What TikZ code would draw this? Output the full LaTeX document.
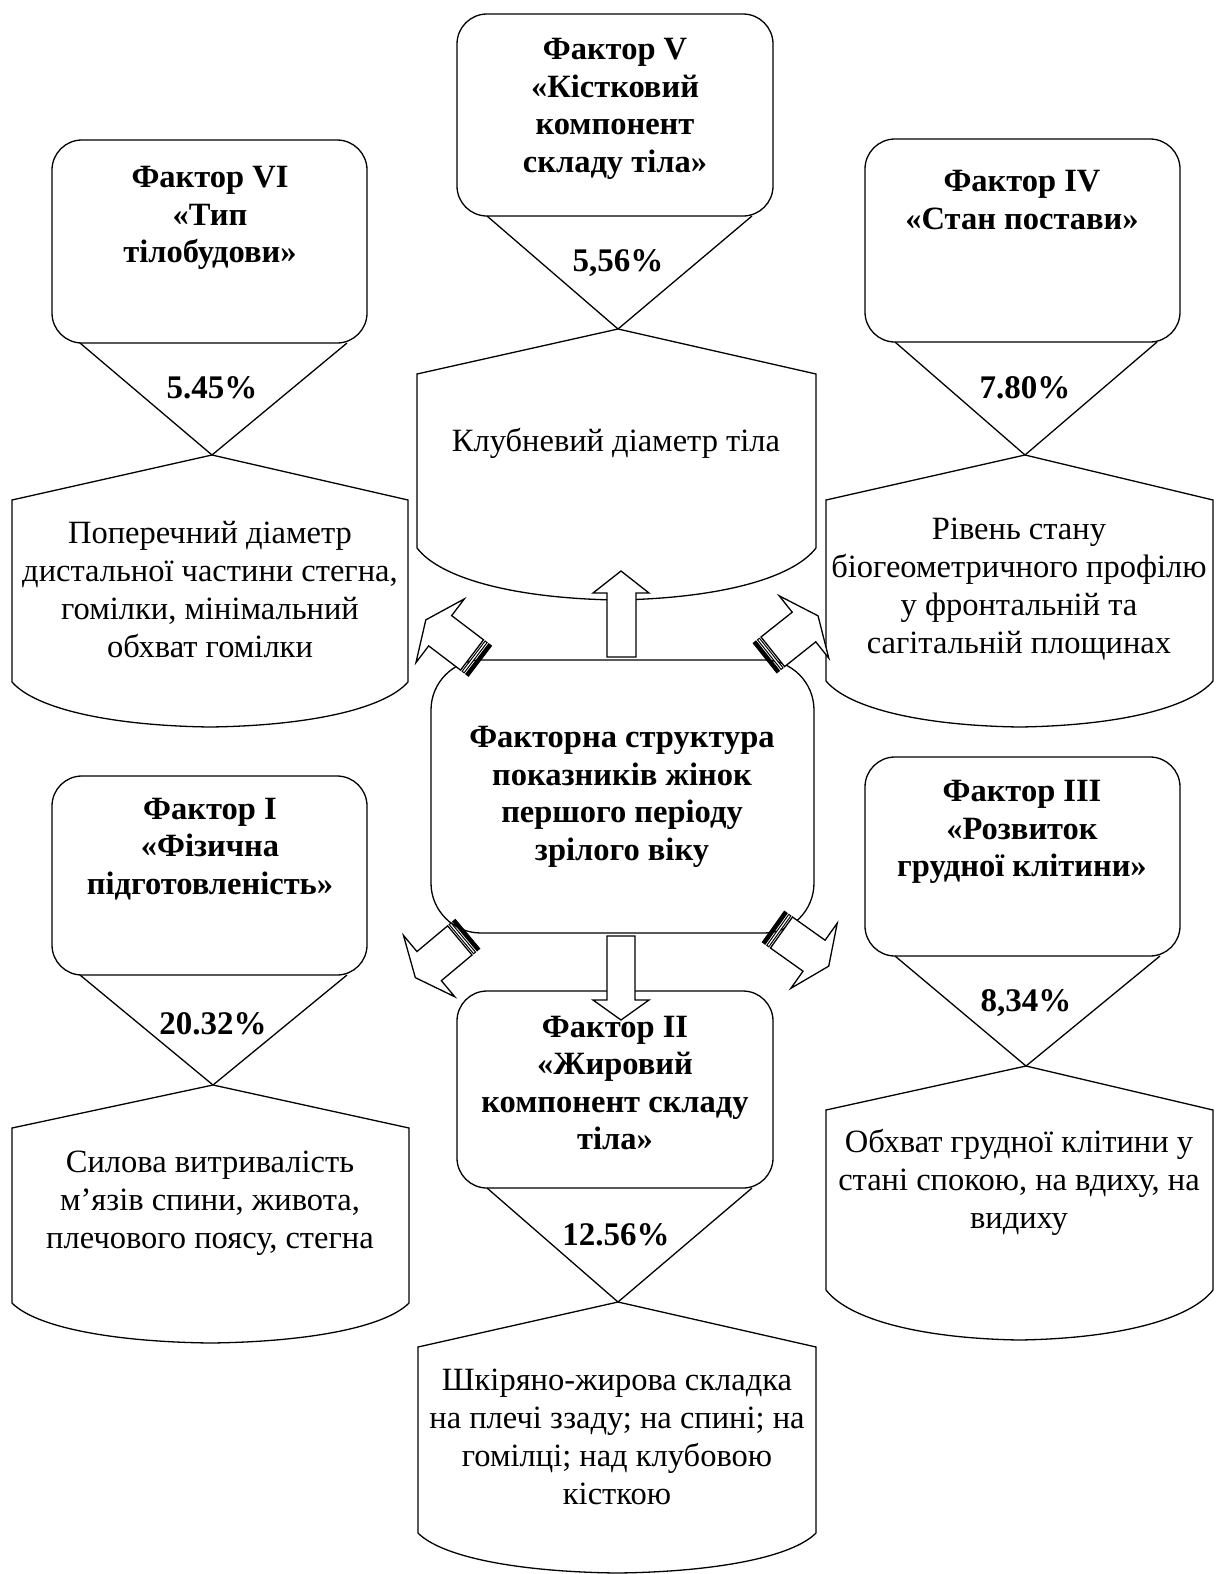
\documentclass[tikz,border=0pt]{standalone}
\usepackage{fontspec}
\setmainfont{Liberation Serif}
\begin{document}
\begin{tikzpicture}[x=1pt,y=-1pt,
  boxline/.style={draw=black, line width=1.3pt, fill=white},
  edgeline/.style={draw=black, line width=1.3pt},
  titletext/.style={align=center, inner sep=0pt, font=\fontsize{32.5}{37.5}\selectfont\bfseries},
  pcttext/.style={inner sep=0pt, font=\fontsize{33}{38}\selectfont\bfseries},
  bodytext/.style={align=center, inner sep=0pt, font=\fontsize{32.5}{38}\selectfont},
  blockarrow/.style={draw=black, line width=1.3pt, fill=white, line join=miter}
]
\useasboundingbox (0,0) rectangle (1216,1574);

% lower (info) box: xl xr xapex yapex ytop ycorner ybottom
\newcommand{\lowbox}[7]{%
  \pgfmathsetmacro\lbxm{(#1+#2)/2}%
  \pgfmathsetmacro\lbhw{(#2-#1)/2}%
  \pgfmathsetmacro\lbdp{#7-#6}%
  \draw[boxline] (#1,#6) -- (#1,#5) -- (#3,#4) -- (#2,#5) -- (#2,#6)
    .. controls ({#2-0.12*\lbhw},{#6+0.6*\lbdp}) and ({\lbxm+0.5*\lbhw},{#7-0.03*\lbdp}) .. (\lbxm,#7)
    .. controls ({\lbxm-0.5*\lbhw},{#7-0.03*\lbdp}) and ({#1+0.12*\lbhw},{#6+0.6*\lbdp}) .. cycle;
}
% diagonal striped arrow: tail x, tail y, dir (canvas) ax ay, perp px py
\newcommand{\diagarrow}[6]{%
  \begin{scope}[shift={(#1,#2)}]
  \begin{scope}[x={(#3pt,#4pt)}, y={(#5pt,#6pt)}]
    \draw[blockarrow] (10,-19) -- (50,-19) -- (50,-40) -- (68,0) -- (50,40) -- (50,19) -- (10,19) -- cycle;
    \draw[black, line width=1.0pt, fill=white] (5.5,-19) -- (8,-19) -- (8,19) -- (5.5,19) -- cycle;
    \draw[black, line width=1.0pt, fill=black] (0,-19) -- (3.5,-19) -- (3.5,19) -- (0,19) -- cycle;
  \end{scope}
  \end{scope}
}

% ---------- Factor V (top centre) ----------
\draw[boxline, rounded corners=30] (457,14) rectangle (773,216);
\draw[edgeline] (487,216) -- (618,329) -- (752,216);
\lowbox{417}{816}{618}{329}{374}{548}{600}
\node[titletext] (f5) at (615,109) {Фактор V\\«Кістковий\\компонент\\складу тіла»};
\node[pcttext] (p5) at (618,263) {5,56\%};
\node[bodytext] (b5) at (616,443) {Клубневий діаметр тіла};

% ---------- Factor VI (top left) ----------
\draw[boxline, rounded corners=30] (52,140) rectangle (367,343);
\draw[edgeline] (80,343) -- (212,455) -- (347,343);
\lowbox{12}{408}{212}{455}{500}{682}{727}
\node[titletext] (f6) at (210,218) {Фактор VI\\«Тип\\тілобудови»};
\node[pcttext] (p6) at (212,388) {5.45\%};
\node[bodytext] (b6) at (210,590) {Поперечний діаметр\\дистальної частини стегна,\\гомілки, мінімальний\\обхват гомілки};

% ---------- Factor IV (top right) ----------
\draw[boxline, rounded corners=30] (865,139) rectangle (1180,342);
\draw[edgeline] (895,342) -- (1025,455) -- (1157,342);
\lowbox{826}{1213}{1025}{455}{500}{681}{727}
\node[titletext] (f4) at (1022,200) {Фактор IV\\«Стан постави»};
\node[pcttext] (p4) at (1025,388) {7.80\%};
\node[bodytext] (b4) at (1019,589) {Рівень стану\\біогеометричного профілю\\у фронтальній та\\сагітальній площинах};

% ---------- Centre ----------
\draw[boxline, rounded corners=50] (431,660) rectangle (814,933);
\node[titletext] (cc) at (622,797) {Факторна структура\\показників жінок\\першого періоду\\зрілого віку};

% ---------- Factor I (bottom left) ----------
\draw[boxline, rounded corners=30] (52,776) rectangle (367,975);
\draw[edgeline] (80,975) -- (213,1085) -- (347,975);
\lowbox{12}{409}{213}{1085}{1128}{1303}{1343}
\node[titletext] (f1) at (210,849) {Фактор I\\«Фізична\\підготовленість»};
\node[pcttext] (p1) at (213,1024) {20.32\%};
\node[bodytext] (b1) at (210,1203) {Силова витривалість\\м’язів спини, живота,\\плечового поясу, стегна};

% ---------- Factor III (bottom right) ----------
\draw[boxline, rounded corners=30] (865,757) rectangle (1180,956);
\draw[edgeline] (895,956) -- (1026,1066) -- (1160,956);
\lowbox{826}{1213}{1026}{1066}{1110}{1290}{1340}
\node[titletext] (f3) at (1022,832) {Фактор III\\«Розвиток\\грудної клітини»};
\node[pcttext] (p3) at (1026,1003) {8,34\%};
\node[bodytext] (b3) at (1019,1182) {Обхват грудної клітини у\\стані спокою, на вдиху, на\\видиху};

% ---------- Factor II (bottom centre) ----------
\draw[boxline, rounded corners=30] (457,991) rectangle (773,1188);
\draw[edgeline] (487,1188) -- (618,1302) -- (752,1188);
\lowbox{418}{816}{618}{1302}{1347}{1533}{1573}
\node[titletext] (f2) at (615,1083) {Фактор II\\«Жировий\\компонент складу\\тіла»};
\node[pcttext] (p2) at (616,1235) {12.56\%};
\node[bodytext] (b2) at (617,1437) {Шкіряно-жирова складка\\на плечі ззаду; на спині; на\\гомілці; над клубовою\\кісткою};

% ---------- Arrows ----------
\draw[blockarrow] (607,657) -- (607,593) -- (593,593) -- (621,571) -- (649,593) -- (636,593) -- (636,657) -- cycle;
\draw[blockarrow] (607,936) -- (607,1000) -- (593,1000) -- (621,1020) -- (649,1000) -- (635,1000) -- (635,936) -- cycle;
\diagarrow{480}{661}{-0.797}{0.605}{0.605}{0.797}
\diagarrow{765}{658}{0.78}{0.62}{-0.62}{0.78}
\diagarrow{467.5}{934}{-0.767}{-0.642}{0.642}{-0.767}
\diagarrow{773.3}{926.7}{0.815}{-0.58}{0.58}{0.815}
\end{tikzpicture}
\end{document}
